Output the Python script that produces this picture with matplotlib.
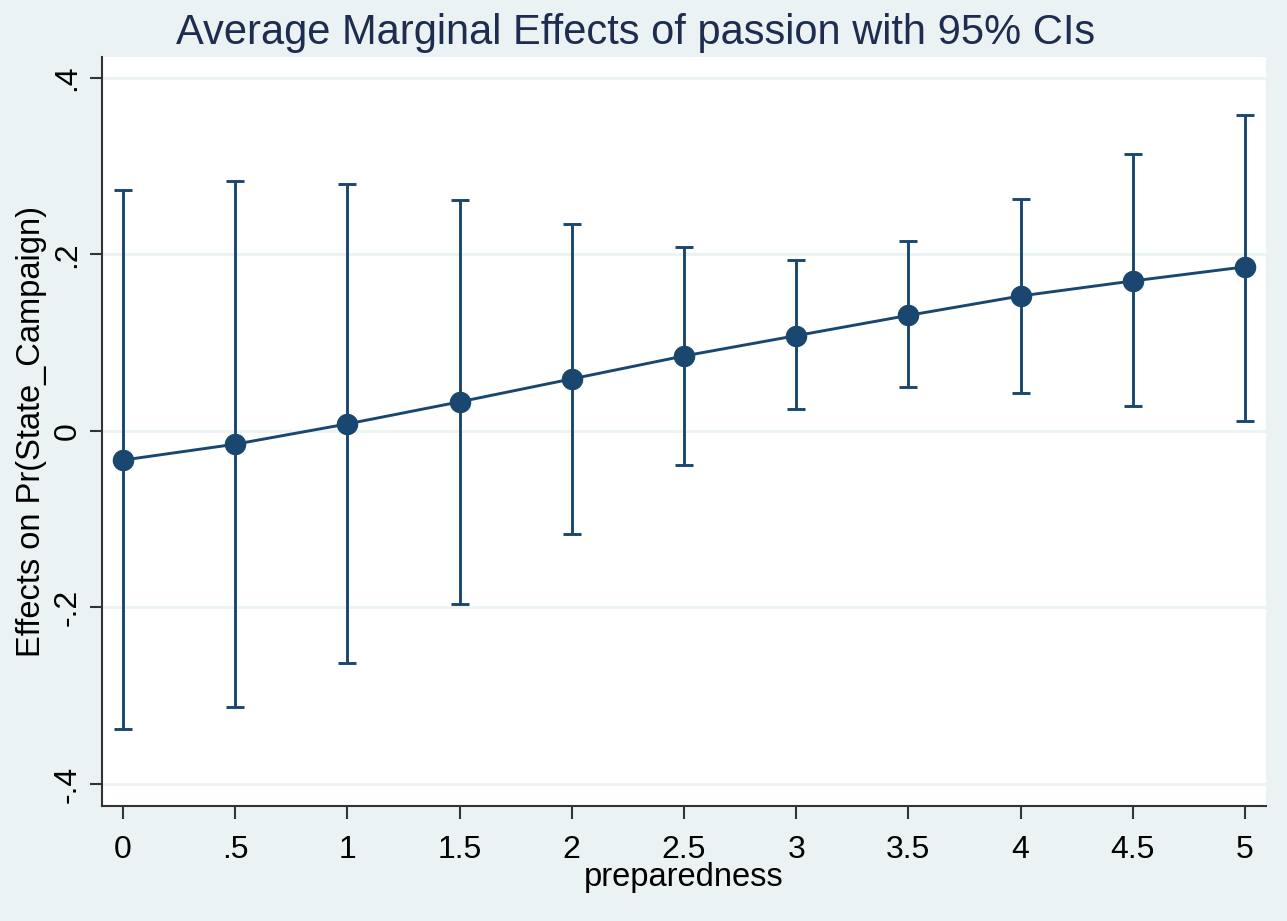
import matplotlib
matplotlib.use("Agg")
import matplotlib.pyplot as plt
import numpy as np

plt.rcParams['font.family'] = ['Liberation Sans', 'DejaVu Sans']

preparedness = [0, 0.5, 1, 1.5, 2, 2.5, 3, 3.5, 4, 4.5, 5]
effect = [-0.033, -0.015, 0.008, 0.033, 0.059, 0.085, 0.108, 0.131, 0.153, 0.170, 0.186]
ci_low = [-0.338, -0.313, -0.263, -0.196, -0.117, -0.0385, 0.025, 0.050, 0.043, 0.028, 0.011]
ci_high = [0.273, 0.283, 0.280, 0.262, 0.235, 0.208, 0.194, 0.215, 0.263, 0.314, 0.358]
xticks = [0, 0.5, 1, 1.5, 2, 2.5, 3, 3.5, 4, 4.5, 5]
xticklabels = ['0', '.5', '1', '1.5', '2', '2.5', '3', '3.5', '4', '4.5', '5']
yticks = [-0.4, -0.2, 0, 0.2, 0.4]
yticklabels = ['-.4', '-.2', '0', '.2', '.4']

bg = '#EAF2F3'
navy = '#1A476F'

fig = plt.figure(figsize=(12.87, 9.21), dpi=100, facecolor=bg)
ax = fig.add_axes([102/1287, 1-806/921, (1266-102)/1287, (806-57)/921])
ax.set_facecolor('white')

x = np.array(preparedness)
y = np.array(effect)
lo = np.array(ci_low)
hi = np.array(ci_high)

ax.errorbar(x, y, yerr=[y - lo, hi - y], fmt='none', ecolor=navy,
            elinewidth=2.1, capsize=6.5, capthick=2.1, zorder=3)
ax.plot(x, y, color=navy, lw=2.1, marker='o', markersize=14.5, zorder=4)

ax.set_xlim(-0.0936, 5.0936)
ax.set_ylim(-0.425, 0.4238)
ax.set_xticks(xticks)
ax.set_xticklabels(xticklabels)
ax.set_yticks(yticks)
ax.set_yticklabels(yticklabels, rotation=90, va='center')
ax.yaxis.grid(True, color=bg, lw=2)
ax.set_axisbelow(True)

for s in ['top', 'right']:
    ax.spines[s].set_visible(False)
for s in ['left', 'bottom']:
    ax.spines[s].set_color('#333333')
    ax.spines[s].set_linewidth(1.5)

ax.tick_params(axis='both', direction='out', length=9, width=1.5, color='#333333',
               labelsize=23, labelcolor='black')
ax.tick_params(axis='x', pad=12)
ax.tick_params(axis='y', pad=5)

ax.set_xlabel('preparedness', fontsize=23.5, labelpad=-2)
ax.set_ylabel('Effects on Pr(State_Campaign)', fontsize=23.5, labelpad=4)
fig.text(0.4935, 0.964, 'Average Marginal Effects of passion with 95% CIs',
         ha='center', va='center', fontsize=30, color='#1E2D4F')

fig.savefig('out.png', dpi=100, facecolor=bg)
